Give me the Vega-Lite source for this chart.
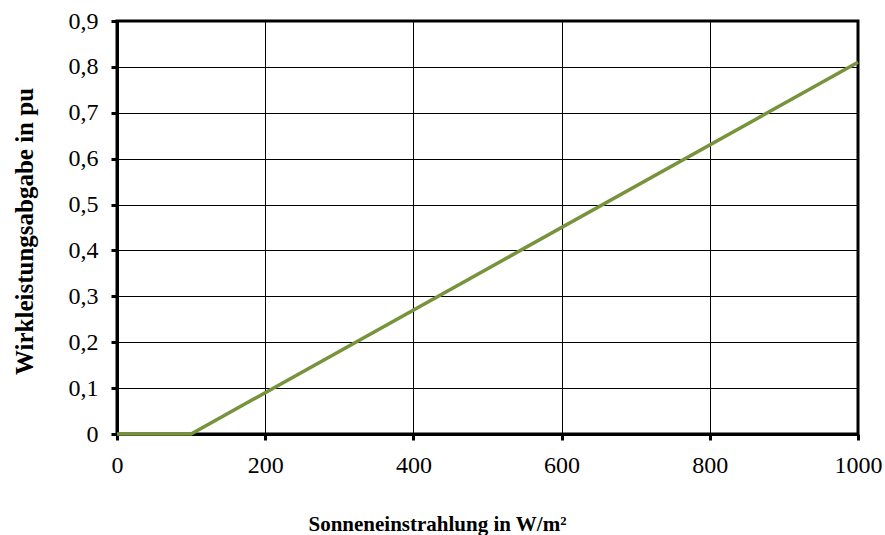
{
  "$schema": "https://vega.github.io/schema/vega-lite/v6.json",
  "width": 741,
  "height": 413,
  "autosize": "none",
  "padding": {"left": 117, "top": 21, "right": 27, "bottom": 101},
  "background": "white",
  "data": {"values": [
    {"e": 0, "p": 0},
    {"e": 100, "p": 0},
    {"e": 1000, "p": 0.81}
  ]},
  "config": {
    "font": "Liberation Serif",
    "view": {"stroke": "black", "strokeWidth": 3},
    "axis": {
      "labelFont": "Liberation Serif",
      "titleFont": "Liberation Serif",
      "labelFontSize": 24,
      "labelColor": "black",
      "titleColor": "black",
      "domainColor": "black",
      "domainWidth": 3,
      "tickColor": "black",
      "tickWidth": 3,
      "tickSize": 6,
      "gridColor": "black",
      "gridWidth": 1,
      "gridOpacity": 1,
      "titleFontWeight": "bold"
    }
  },
  "mark": {"type": "line", "color": "#77933C", "strokeWidth": 3.5},
  "encoding": {
    "x": {
      "field": "e", "type": "quantitative",
      "scale": {"domain": [0, 1000], "nice": false},
      "axis": {
        "title": "Sonneneinstrahlung in W/m²",
        "titleFontSize": 21,
        "values": [0, 200, 400, 600, 800, 1000],
        "format": "d",
        "labelPadding": 13,
        "titleX": 320,
        "titleY": 96,
        "titleBaseline": "alphabetic",
        "labelFlush": false
      }
    },
    "y": {
      "field": "p", "type": "quantitative",
      "scale": {"domain": [0, 0.9], "nice": false},
      "axis": {
        "title": "Wirkleistungsabgabe in pu",
        "titleFontSize": 25,
        "values": [0, 0.1, 0.2, 0.3, 0.4, 0.5, 0.6, 0.7, 0.8, 0.9],
        "format": ".1~f",
        "labelExpr": "replace(datum.label, '.', ',')",
        "labelPadding": 13,
        "titleX": -80,
        "titleY": 210,
        "titleAnchor": "middle",
        "labelFlush": false
      }
    }
  }
}
